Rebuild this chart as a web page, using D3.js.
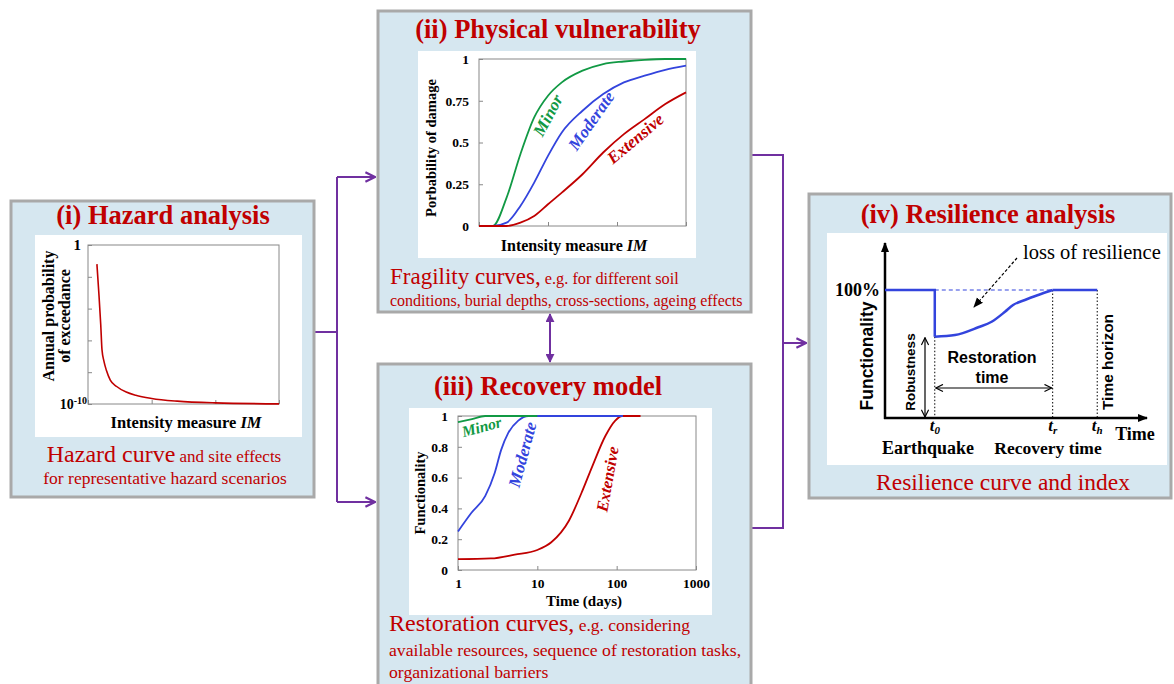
<!DOCTYPE html>
<html>
<head>
<meta charset="utf-8">
<script src="https://cdn.jsdelivr.net/npm/d3@7"></script>
<style>
  body { margin: 0; background: #fff; }
  svg { display: block; }
</style>
</head>
<body>
<svg id="chart" width="1174" height="684"></svg>
<script>
// ---- data ----
// (i) hazard curve: IM (arbitrary units) vs log10 annual probability of exceedance
const hazIM = [0.14, 0.17, 0.2, 0.22, 0.25, 0.29, 0.35, 0.45, 0.6, 0.75, 1.0, 1.4, 2.0, 3.0];
const hazLogP = [-1.2, -3.0, -5.0, -6.6, -7.3, -7.9, -8.5, -8.9, -9.25, -9.45, -9.65, -9.82, -9.93, -9.99];

// (ii) fragility curves
const fragIM = [0, 0.2, 0.4, 0.6, 0.8, 1.0, 1.2, 1.5, 1.8, 2.1, 2.4, 2.7, 3.0];
const fragMinor = [0, 0, 0.17, 0.43, 0.65, 0.78, 0.86, 0.93, 0.97, 0.985, 0.995, 1.0, 1.0];
const fragModerate = [0, 0, 0.02, 0.12, 0.26, 0.42, 0.56, 0.69, 0.79, 0.86, 0.9, 0.935, 0.96];
const fragExtensive = [0, 0, 0, 0.02, 0.06, 0.13, 0.2, 0.31, 0.44, 0.55, 0.64, 0.73, 0.8];
const fragTicks = [0, 0.25, 0.5, 0.75, 1];

// (iii) restoration curves (days, functionality)
const recMinorDays = [1, 1.5, 2.2, 10];
const recMinor = [0.96, 0.98, 1.0, 1.0];
const recModDays = [1, 1.47, 2.2, 2.9, 3.5, 4.3, 5.75, 7.7, 120];
const recModerate = [0.25, 0.37, 0.48, 0.63, 0.78, 0.89, 0.97, 1.0, 1.0];
const recExtDays = [1, 2.6, 5.2, 10, 15, 25, 36, 49, 72, 96, 117, 200];
const recExtensive = [0.07, 0.075, 0.1, 0.13, 0.18, 0.32, 0.5, 0.67, 0.87, 0.97, 1.0, 1.0];
const recYTicks = [0, 0.2, 0.4, 0.6, 0.8, 1];
const recXTicks = [1, 10, 100, 1000];

// (iv) resilience curve (schematic time units, functionality)
const t0 = 1.9, tr = 6.4, th = 8.1;
const robustness = 0.635;
const resT = [1.9, 2.67, 3.56, 4.07, 4.58, 4.89, 5.34, 5.85, 6.4];
const resQ = [0.635, 0.648, 0.709, 0.752, 0.83, 0.883, 0.922, 0.961, 1.0];

const RED = "#c00000", GREEN = "#119944", BLUE = "#3344dd", PURPLE = "#7030a0";
const BOXFILL = "#d6e7f0", BOXSTROKE = "#a9a9a9";
const SERIF = "'Liberation Serif', 'DejaVu Serif', serif";
const SANS = "'Liberation Sans', 'DejaVu Sans', sans-serif";

const svg = d3.select("#chart");

// helper: text with explicit family
function txt(parent, family) {
  return parent.append("text").style("font-family", family);
}

const defs = svg.append("defs");
defs.append("marker").attr("id", "chev").attr("viewBox", "0 0 10 10")
  .attr("refX", 9).attr("refY", 5).attr("markerWidth", 12).attr("markerHeight", 12)
  .attr("markerUnits", "userSpaceOnUse").attr("orient", "auto")
  .append("path").attr("d", "M1,1 L9,5 L1,9").attr("fill", "none")
  .attr("stroke", PURPLE).attr("stroke-width", 1.8);
defs.append("marker").attr("id", "tri").attr("viewBox", "0 0 10 10")
  .attr("refX", 9).attr("refY", 5).attr("markerWidth", 9).attr("markerHeight", 9)
  .attr("markerUnits", "userSpaceOnUse").attr("orient", "auto-start-reverse")
  .append("path").attr("d", "M0,0 L10,5 L0,10 Z").attr("fill", PURPLE);
defs.append("marker").attr("id", "blk").attr("viewBox", "0 0 10 10")
  .attr("refX", 9).attr("refY", 5).attr("markerWidth", 10).attr("markerHeight", 10)
  .attr("markerUnits", "userSpaceOnUse").attr("orient", "auto-start-reverse")
  .append("path").attr("d", "M0,1 L10,5 L0,9 Z").attr("fill", "#000");
defs.append("marker").attr("id", "thin").attr("viewBox", "0 0 10 10")
  .attr("refX", 9).attr("refY", 5).attr("markerWidth", 9).attr("markerHeight", 9)
  .attr("markerUnits", "userSpaceOnUse").attr("orient", "auto-start-reverse")
  .append("path").attr("d", "M1,1 L9,5 L1,9").attr("fill", "none")
  .attr("stroke", "#000").attr("stroke-width", 1.3);

// ---- connectors ----
const conn = svg.append("g").attr("stroke", PURPLE).attr("stroke-width", 2).attr("fill", "none");
conn.append("path").attr("d", "M315,332 H337");
conn.append("path").attr("d", "M337,177 V502");
conn.append("path").attr("d", "M337,177 H375").attr("marker-end", "url(#chev)");
conn.append("path").attr("d", "M337,502 H375").attr("marker-end", "url(#chev)");
conn.append("path").attr("d", "M751,155 H783 V528 H751");
conn.append("path").attr("d", "M783,343 H806").attr("marker-end", "url(#chev)");
conn.append("path").attr("d", "M550,314 V362")
  .attr("marker-start", "url(#tri)").attr("marker-end", "url(#tri)");

// ---- boxes ----
function box(x, y, w, h) {
  svg.append("rect").attr("x", x).attr("y", y).attr("width", w).attr("height", h)
    .attr("fill", BOXFILL).attr("stroke", BOXSTROKE).attr("stroke-width", 3);
}
function title(x, y, t) {
  txt(svg, SERIF).attr("x", x).attr("y", y)
    .attr("text-anchor", "middle").attr("font-size", 26.5).attr("font-weight", "bold")
    .attr("fill", RED).text(t);
}
box(11, 201, 303, 296);
box(378, 11, 373, 301);
box(378, 364, 373, 330);
box(809, 194, 362, 304);
title(163, 224, "(i) Hazard analysis");
title(558, 38, "(ii) Physical vulnerability");
title(548, 395, "(iii) Recovery model");
title(988, 223, "(iv) Resilience analysis");

function whiteArea(x, y, w, h) {
  svg.append("rect").attr("x", x).attr("y", y).attr("width", w).attr("height", h).attr("fill", "#fff");
}
whiteArea(35, 235, 267, 202);
whiteArea(418, 51, 278, 207);
whiteArea(409, 408, 303, 207);
whiteArea(827, 233, 340, 232);

function caption(x, y, big, small, anchor, bs, ss) {
  const t = txt(svg, SERIF).attr("x", x).attr("y", y)
    .attr("text-anchor", anchor).attr("fill", RED);
  t.append("tspan").attr("font-size", bs).text(big);
  if (small) t.append("tspan").attr("font-size", ss).text(small);
  return t;
}
function line2(x, y, s, anchor, fs) {
  txt(svg, SERIF).attr("x", x).attr("y", y)
    .attr("text-anchor", anchor).attr("font-size", fs).attr("fill", RED).text(s);
}
function styleTicks(a) {
  a.selectAll("text").style("font-family", SERIF).attr("font-size", 13.5)
    .attr("font-weight", "bold").attr("fill", "#000");
}

// ---- (i) hazard ----
{
  const x = d3.scaleLinear().domain([0, 3]).range([88, 279]);
  const y = d3.scaleLinear().domain([-10, 0]).range([404, 245]);
  const g = svg.append("g");
  g.append("rect").attr("x", 88).attr("y", 245).attr("width", 191).attr("height", 159)
    .attr("fill", "none").attr("stroke", "#888").attr("stroke-width", 1);
  g.append("g").attr("transform", "translate(88,0)")
    .call(d3.axisLeft(y).tickValues([-10, -8, -6, -4, -2, 0]).tickFormat("").tickSizeInner(-4).tickSizeOuter(0))
    .call(a => a.select(".domain").remove()).selectAll("line").attr("stroke", "#888");
  g.append("g").attr("transform", "translate(0,404)")
    .call(d3.axisBottom(x).tickValues([0, 1, 2, 3]).tickFormat("").tickSizeInner(-4).tickSizeOuter(0))
    .call(a => a.select(".domain").remove()).selectAll("line").attr("stroke", "#888");
  g.append("path").datum(hazIM.map((v, i) => [v, hazLogP[i]]))
    .attr("fill", "none").attr("stroke", RED).attr("stroke-width", 1.6)
    .attr("d", d3.line().x(d => x(d[0])).y(d => y(d[1])).curve(d3.curveMonotoneX));
  txt(g, SERIF).attr("x", 81).attr("y", y(0) + 5)
    .attr("text-anchor", "end").attr("font-weight", "bold").attr("font-size", 15).text("1");
  const lab = txt(g, SERIF).attr("x", 87).attr("y", y(-10) + 5)
    .attr("text-anchor", "end").attr("font-weight", "bold").attr("font-size", 14);
  lab.append("tspan").text("10");
  lab.append("tspan").attr("dy", -5).attr("font-size", 10).text("-10");
  const yl = txt(g, SERIF).attr("transform", "translate(54,316) rotate(-90)")
    .attr("text-anchor", "middle").attr("font-weight", "bold").attr("font-size", 16);
  yl.append("tspan").attr("x", 0).attr("dy", 0).text("Annual probability");
  yl.append("tspan").attr("x", 0).attr("dy", 16).text("of exceedance");
  const xl = txt(g, SERIF).attr("x", 186).attr("y", 428)
    .attr("text-anchor", "middle").attr("font-weight", "bold").attr("font-size", 16.5);
  xl.append("tspan").text("Intensity measure ");
  xl.append("tspan").attr("font-style", "italic").text("IM");
  caption(164, 462, "Hazard curve", " and site effects", "middle", 24, 17);
  line2(165, 484, "for representative hazard scenarios", "middle", 17.5);
}

// ---- (ii) fragility ----
{
  const x = d3.scaleLinear().domain([0, 3]).range([479, 686]);
  const y = d3.scaleLinear().domain([0, 1]).range([226, 59]);
  const g = svg.append("g");
  g.append("rect").attr("x", 479).attr("y", 59).attr("width", 207).attr("height", 167)
    .attr("fill", "none").attr("stroke", "#888");
  g.append("g").attr("transform", "translate(479,0)")
    .call(d3.axisLeft(y).tickValues(fragTicks).tickFormat(d3.format("")).tickSizeInner(-4).tickSizeOuter(0).tickPadding(10))
    .call(a => a.select(".domain").remove())
    .call(a => a.selectAll("line").attr("stroke", "#888"))
    .call(styleTicks);
  g.append("g").attr("transform", "translate(0,226)")
    .call(d3.axisBottom(x).tickValues([0, 1, 2, 3]).tickFormat("").tickSizeInner(-4).tickSizeOuter(0))
    .call(a => a.select(".domain").remove()).selectAll("line").attr("stroke", "#888");
  const ln = d3.line().x(d => x(d[0])).y(d => y(d[1])).curve(d3.curveMonotoneX);
  [[fragMinor, GREEN], [fragModerate, BLUE], [fragExtensive, RED]].forEach(([s, c]) => {
    g.append("path").datum(fragIM.map((v, i) => [v, s[i]]))
      .attr("fill", "none").attr("stroke", c).attr("stroke-width", 1.8).attr("d", ln);
  });
  function rlab(t, cx, cy, ang, c) {
    txt(g, SERIF).attr("transform", `translate(${cx},${cy}) rotate(${ang})`)
      .attr("text-anchor", "middle").attr("font-weight", "bold").attr("font-style", "italic")
      .attr("font-size", 17).attr("fill", c).text(t);
  }
  rlab("Minor", 553, 118, -62, GREEN);
  rlab("Moderate", 596, 124, -55, BLUE);
  rlab("Extensive", 639, 143, -40, RED);
  txt(g, SERIF).attr("transform", "translate(436,148) rotate(-90)")
    .attr("text-anchor", "middle").attr("font-weight", "bold").attr("font-size", 14.5).text("Porbability of damage");
  const xl = txt(g, SERIF).attr("x", 574).attr("y", 251)
    .attr("text-anchor", "middle").attr("font-weight", "bold").attr("font-size", 16);
  xl.append("tspan").text("Intensity measure ");
  xl.append("tspan").attr("font-style", "italic").text("IM");
  caption(390, 284, "Fragility curves,", " e.g. for different soil", "start", 23, 16.3);
  line2(390, 306, "conditions, burial depths, cross-sections, ageing effects", "start", 16);
}

// ---- (iii) recovery ----
{
  const x = d3.scaleLog().domain([1, 1000]).range([458, 696]);
  const y = d3.scaleLinear().domain([0, 1]).range([570, 416]);
  const g = svg.append("g");
  g.append("rect").attr("x", 458).attr("y", 416).attr("width", 238).attr("height", 154)
    .attr("fill", "none").attr("stroke", "#888");
  g.append("g").attr("transform", "translate(458,0)")
    .call(d3.axisLeft(y).tickValues(recYTicks).tickFormat(d3.format("")).tickSizeInner(-4).tickSizeOuter(0).tickPadding(10))
    .call(a => a.select(".domain").remove())
    .call(a => a.selectAll("line").attr("stroke", "#888"))
    .call(styleTicks);
  g.append("g").attr("transform", "translate(0,570)")
    .call(d3.axisBottom(x).tickValues(recXTicks).tickFormat(d3.format("")).tickSizeInner(-4).tickSizeOuter(0).tickPadding(8))
    .call(a => a.select(".domain").remove())
    .call(a => a.selectAll("line").attr("stroke", "#888"))
    .call(styleTicks);
  const ln = d3.line().x(d => x(d[0])).y(d => y(d[1])).curve(d3.curveMonotoneX);
  [[recExtDays, recExtensive, RED], [recModDays, recModerate, BLUE], [recMinorDays, recMinor, GREEN]].forEach(([ds, s, c]) => {
    g.append("path").datum(ds.map((v, i) => [v, s[i]]))
      .attr("fill", "none").attr("stroke", c).attr("stroke-width", 1.8).attr("d", ln);
  });
  function rlab(t, cx, cy, ang, c, fs) {
    txt(g, SERIF).attr("transform", `translate(${cx},${cy}) rotate(${ang})`)
      .attr("text-anchor", "middle").attr("font-weight", "bold").attr("font-style", "italic")
      .attr("font-size", fs).attr("fill", c).text(t);
  }
  rlab("Minor", 483, 432, -15, GREEN, 15.5);
  rlab("Moderate", 528, 456, -75, BLUE, 17);
  rlab("Extensive", 613, 480, -80, RED, 16.5);
  txt(g, SERIF).attr("transform", "translate(425,493) rotate(-90)")
    .attr("text-anchor", "middle").attr("font-weight", "bold").attr("font-size", 14.5).text("Functionality");
  txt(g, SERIF).attr("x", 584).attr("y", 606)
    .attr("text-anchor", "middle").attr("font-weight", "bold").attr("font-size", 15).text("Time (days)");
  caption(389, 631, "Restoration curves,", " e.g. considering", "start", 24, 17.5);
  line2(389, 656, "available resources, sequence of restoration tasks,", "start", 17.7);
  line2(389, 678, "organizational barriers", "start", 17.7);
}

// ---- (iv) resilience ----
{
  const x = d3.scaleLinear().domain([0, 10]).range([885, 1147]);
  const y = d3.scaleLinear().domain([0, 1]).range([418, 290]);
  const g = svg.append("g");
  // axes
  g.append("line").attr("x1", 885).attr("y1", 419).attr("x2", 885).attr("y2", 243)
    .attr("stroke", "#000").attr("stroke-width", 2.5).attr("marker-end", "url(#blk)");
  g.append("line").attr("x1", 884).attr("y1", 418).attr("x2", 1147).attr("y2", 418)
    .attr("stroke", "#000").attr("stroke-width", 2.5).attr("marker-end", "url(#blk)");
  // dotted verticals
  [[t0, robustness], [tr, 1], [th, 1]].forEach(([t, q]) => {
    g.append("line").attr("x1", x(t)).attr("x2", x(t)).attr("y1", y(q)).attr("y2", y(0))
      .attr("stroke", "#000").attr("stroke-width", 1).attr("stroke-dasharray", "1.5,2");
  });
  // dashed reference
  g.append("line").attr("x1", x(t0)).attr("x2", x(tr)).attr("y1", y(1)).attr("y2", y(1))
    .attr("stroke", BLUE).attr("stroke-width", 1.2).attr("stroke-dasharray", "4,3");
  const lin = d3.line().x(d => x(d[0])).y(d => y(d[1]));
  g.append("path").datum([[0, 1], [t0, 1], [t0, robustness]])
    .attr("fill", "none").attr("stroke", BLUE).attr("stroke-width", 2.5).attr("d", lin);
  g.append("path").datum(resT.map((v, i) => [v, resQ[i]]))
    .attr("fill", "none").attr("stroke", BLUE).attr("stroke-width", 2.5)
    .attr("d", d3.line().x(d => x(d[0])).y(d => y(d[1])).curve(d3.curveMonotoneX));
  g.append("path").datum([[tr, 1], [th, 1]])
    .attr("fill", "none").attr("stroke", BLUE).attr("stroke-width", 2.5).attr("d", lin);
  // robustness arrow
  g.append("line").attr("x1", 925).attr("x2", 925).attr("y1", y(robustness) + 1).attr("y2", y(0) - 1)
    .attr("stroke", "#000").attr("stroke-width", 1.2)
    .attr("marker-start", "url(#thin)").attr("marker-end", "url(#thin)");
  // restoration time arrow
  g.append("line").attr("x1", x(t0) + 1).attr("x2", x(tr) - 1).attr("y1", 388).attr("y2", 388)
    .attr("stroke", "#000").attr("stroke-width", 1.2)
    .attr("marker-start", "url(#thin)").attr("marker-end", "url(#thin)");
  // loss of resilience
  g.append("line").attr("x1", 1017).attr("y1", 258).attr("x2", 974).attr("y2", 307)
    .attr("stroke", "#000").attr("stroke-width", 1.2).attr("stroke-dasharray", "3,2")
    .attr("marker-end", "url(#blk)");
  txt(g, SERIF).attr("x", 1023).attr("y", 259).attr("font-size", 20.5).text("loss of resilience");
  txt(g, SERIF).attr("x", 880).attr("y", 296)
    .attr("text-anchor", "end").attr("font-weight", "bold").attr("font-size", 18).text("100%");
  txt(g, SANS).attr("transform", "translate(873,356) rotate(-90)")
    .attr("text-anchor", "middle").attr("font-weight", "bold").attr("font-size", 17.5).text("Functionality");
  txt(g, SANS).attr("transform", "translate(915,372) rotate(-90)")
    .attr("text-anchor", "middle").attr("font-weight", "bold").attr("font-size", 13.5).text("Robustness");
  txt(g, SANS).attr("transform", "translate(1113,362) rotate(-90)")
    .attr("text-anchor", "middle").attr("font-weight", "bold").attr("font-size", 15.5).text("Time horizon");
  txt(g, SANS).attr("x", 992).attr("y", 363)
    .attr("text-anchor", "middle").attr("font-weight", "bold").attr("font-size", 16).text("Restoration");
  txt(g, SANS).attr("x", 992).attr("y", 383)
    .attr("text-anchor", "middle").attr("font-weight", "bold").attr("font-size", 16).text("time");
  function tlab(t, sub, xx) {
    const tx = txt(g, SERIF).attr("x", xx).attr("y", 431)
      .attr("text-anchor", "middle").attr("font-weight", "bold").attr("font-style", "italic").attr("font-size", 17);
    tx.append("tspan").text(t);
    tx.append("tspan").attr("dy", 3).attr("font-size", 11).text(sub);
  }
  tlab("t", "0", x(t0));
  tlab("t", "r", x(tr));
  tlab("t", "h", x(th));
  txt(g, SERIF).attr("x", 1135).attr("y", 440)
    .attr("text-anchor", "middle").attr("font-weight", "bold").attr("font-size", 18).text("Time");
  txt(g, SERIF).attr("x", 928).attr("y", 454)
    .attr("text-anchor", "middle").attr("font-weight", "bold").attr("font-size", 18).text("Earthquake");
  txt(g, SERIF).attr("x", 1048).attr("y", 454)
    .attr("text-anchor", "middle").attr("font-weight", "bold").attr("font-size", 17.5).text("Recovery time");
  txt(svg, SERIF).attr("x", 1003).attr("y", 490)
    .attr("text-anchor", "middle").attr("font-size", 23.5).attr("fill", RED).text("Resilience curve and index");
}
</script>
</body>
</html>
